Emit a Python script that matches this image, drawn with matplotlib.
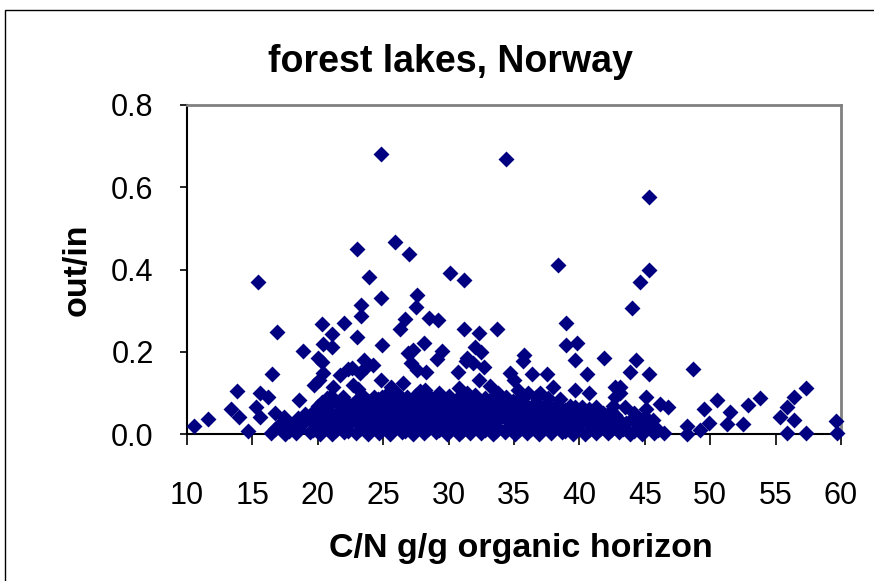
import matplotlib
matplotlib.use("Agg")
import matplotlib.pyplot as plt
from matplotlib.patches import Rectangle
from matplotlib.ticker import FormatStrFormatter

# C/N (g/g, organic horizon) vs out/in
# scattered lakes (upper part of the cloud and the outliers)
cn_upper = [
    24.8, 34.4, 45.3, 23.0, 25.9, 27.0, 15.4, 23.9, 30.1, 31.2,
    38.4, 45.3, 44.6, 24.8, 23.3, 23.3, 27.6, 27.5, 26.7, 26.3,
    22.0, 20.3, 16.9, 21.1, 23.0, 20.4, 24.9, 26.9, 18.9, 20.0,
    21.1, 23.5, 24.2, 22.3, 16.5, 20.4, 13.8, 15.6, 16.2, 13.4,
    18.6, 15.3, 16.7, 14.0, 10.5, 11.6, 14.7, 15.6, 17.4, 28.5,
    29.2, 31.2, 33.7, 32.3, 39.0, 44.0, 27.3, 28.1, 29.5, 29.1,
    31.3, 32.0, 32.7, 30.7, 28.3, 27.6, 35.8, 35.7, 39.0, 39.8,
    39.7, 41.9, 40.6, 44.3, 43.9, 37.5, 36.4, 34.7, 35.0, 33.2,
    33.8, 37.0, 39.7, 40.7, 42.7, 42.6, 38.5, 40.2, 35.3, 45.3,
    48.7, 45.1, 43.5, 46.2, 46.8, 45.1, 50.5, 49.5, 51.5, 52.9,
    53.8, 56.4, 57.3, 55.9, 55.3, 56.4, 55.9, 57.3, 59.6, 59.7,
    48.2, 48.2, 49.2, 49.9, 51.3, 52.5, 43.6, 44.6, 45.6, 45.6,
    43.1, 43.1, 32.5, 31.4, 20.3, 22.6, 20.1, 21.7, 22.7, 22.0,
    20.7, 21.2, 23.7, 24.8, 24.9, 28.2, 31.9, 32.3, 33.4, 35.0,
    26.5, 23.2, 29.3, 31.4, 27.1, 42.7, 39.7, 36.1, 23.1, 25.6,
    27.8, 30.8, 36.7, 38.0, 19.7, 26.1,
]
out_upper = [
    0.680, 0.669, 0.576, 0.450, 0.467, 0.438, 0.370, 0.381, 0.392, 0.374,
    0.410, 0.398, 0.370, 0.330, 0.314, 0.287, 0.338, 0.310, 0.279, 0.255,
    0.271, 0.267, 0.249, 0.242, 0.237, 0.220, 0.216, 0.196, 0.203, 0.186,
    0.212, 0.180, 0.168, 0.157, 0.145, 0.148, 0.105, 0.100, 0.089, 0.062,
    0.083, 0.066, 0.050, 0.042, 0.019, 0.036, 0.008, 0.042, 0.041, 0.283,
    0.277, 0.255, 0.255, 0.245, 0.271, 0.306, 0.204, 0.222, 0.203, 0.182,
    0.178, 0.212, 0.164, 0.151, 0.151, 0.156, 0.192, 0.178, 0.216, 0.221,
    0.180, 0.186, 0.145, 0.180, 0.151, 0.145, 0.145, 0.148, 0.131, 0.117,
    0.100, 0.100, 0.107, 0.099, 0.115, 0.068, 0.084, 0.066, 0.107, 0.145,
    0.157, 0.089, 0.066, 0.074, 0.065, 0.062, 0.083, 0.060, 0.054, 0.071,
    0.088, 0.089, 0.111, 0.066, 0.042, 0.034, 0.002, 0.002, 0.032, 0.002,
    0.020, 0.000, 0.010, 0.026, 0.024, 0.024, 0.026, 0.018, 0.018, 0.034,
    0.099, 0.115, 0.200, 0.184, 0.176, 0.160, 0.131, 0.143, 0.119, 0.083,
    0.087, 0.115, 0.164, 0.131, 0.091, 0.107, 0.172, 0.131, 0.091, 0.075,
    0.123, 0.148, 0.099, 0.099, 0.172, 0.091, 0.066, 0.099, 0.110, 0.115,
    0.104, 0.112, 0.090, 0.115, 0.120, 0.098,
]

# the dense band of low out/in values
cn_base = [
    16.4, 17.5, 18.3, 19.4, 20.2, 21.1, 22.0, 22.9, 23.8, 24.7,
    25.5, 26.4, 27.3, 28.1, 29.0, 29.9, 30.8, 31.6, 32.5, 33.4,
    34.3, 35.1, 36.0, 36.9, 37.8, 38.7, 39.5, 40.4, 41.3, 42.2,
    43.0, 43.9, 44.8, 45.7, 46.5,
    16.7, 17.8, 18.6, 19.6, 20.5, 21.4, 22.3, 23.2, 24.0, 24.9,
    25.8, 26.7, 27.5, 28.4, 29.3, 30.1, 31.0, 31.9, 32.8, 33.6,
    34.5, 35.4, 36.3, 37.2, 38.0, 38.9, 39.8, 40.7, 41.6, 42.4,
    43.3, 44.2, 45.1, 46.0,
    17.0, 17.9, 18.8, 19.8, 20.6, 21.5, 22.4, 23.4, 24.2, 25.1,
    26.0, 26.8, 27.7, 28.6, 29.5, 30.3, 31.2, 32.1, 33.0, 33.8,
    34.7, 35.6, 36.5, 37.3, 38.2, 39.1, 40.0, 40.9, 41.7, 42.6,
    17.6, 18.6, 19.5, 20.4, 21.3, 22.2, 23.1, 24.0, 24.8, 25.7,
    26.6, 27.5, 28.3, 29.2, 30.1, 31.0, 31.8, 32.7, 33.6, 34.5,
    35.3, 36.2, 37.1, 38.0, 38.8, 39.7, 40.6, 41.5, 42.3, 43.2,
    44.5, 45.3,
    18.5, 19.3, 20.1, 21.0, 21.9, 22.8, 23.6, 24.5, 25.4, 26.2,
    27.1, 28.0, 28.9, 29.8, 30.6, 31.5, 32.4, 33.3, 34.1, 35.0,
    35.9, 36.8, 37.6, 38.5, 39.4, 40.3, 41.1, 42.0, 42.9, 44.0,
    45.0,
    19.0, 19.9, 20.8, 21.7, 22.6, 23.5, 24.3, 25.2, 26.1, 27.0,
    27.8, 28.7, 29.6, 30.4, 31.3, 32.2, 33.1, 33.9, 34.8, 35.7,
    36.6, 37.4, 38.3, 39.2, 40.1, 40.9, 41.8, 42.7,
    19.8, 20.7, 21.6, 22.5, 23.3, 24.1, 25.0, 25.9, 26.7, 27.6,
    28.5, 29.3, 30.2, 31.1, 32.0, 32.8, 33.7, 34.6, 35.4, 36.3,
    37.2, 38.0, 38.9, 39.8, 40.7, 41.6, 42.4, 44.2,
    20.0, 20.9, 21.8, 22.7, 23.6, 24.4, 25.3, 26.2, 27.0, 27.9,
    28.8, 29.6, 30.5, 31.3, 32.2, 33.0, 33.9, 34.8, 35.6, 36.5,
    37.4, 38.3, 39.3, 41.3,
    20.3, 21.2, 22.1, 23.0, 23.8, 24.6, 25.5, 26.3, 27.2, 28.0,
    28.9, 29.7, 30.6, 31.5, 32.3, 33.2, 34.0, 34.9, 35.8, 36.7,
    37.5,
    21.0, 21.9, 23.4, 24.3, 25.1, 25.9, 26.8, 27.5, 28.6, 30.0,
    30.9, 32.0, 32.8, 34.4, 35.6, 37.6,
]
out_base = [
    0.003, 0.000, 0.002, 0.005, 0.001, 0.000, 0.004, 0.002, 0.000, 0.003,
    0.001, 0.005, 0.000, 0.002, 0.004, 0.001, 0.000, 0.003, 0.002, 0.000,
    0.004, 0.001, 0.003, 0.000, 0.002, 0.005, 0.001, 0.000, 0.003, 0.002,
    0.004, 0.000, 0.001, 0.003, 0.002,
    0.011, 0.008, 0.012, 0.009, 0.013, 0.010, 0.007, 0.012, 0.009, 0.011,
    0.013, 0.008, 0.010, 0.012, 0.009, 0.011, 0.007, 0.013, 0.010, 0.008,
    0.012, 0.009, 0.011, 0.013, 0.010, 0.008, 0.012, 0.009, 0.011, 0.010,
    0.013, 0.008, 0.011, 0.009,
    0.021, 0.016, 0.024, 0.018, 0.022, 0.015, 0.025, 0.019, 0.017, 0.023,
    0.020, 0.016, 0.024, 0.018, 0.021, 0.025, 0.017, 0.020, 0.023, 0.015,
    0.022, 0.019, 0.024, 0.016, 0.021, 0.018, 0.025, 0.020, 0.017, 0.022,
    0.031, 0.028, 0.033, 0.029, 0.032, 0.027, 0.030, 0.034, 0.028, 0.031,
    0.033, 0.029, 0.027, 0.032, 0.030, 0.034, 0.028, 0.031, 0.029, 0.033,
    0.027, 0.030, 0.032, 0.028, 0.034, 0.029, 0.031, 0.027, 0.033, 0.030,
    0.028, 0.031,
    0.038, 0.042, 0.035, 0.044, 0.040, 0.037, 0.045, 0.041, 0.036, 0.043,
    0.039, 0.046, 0.038, 0.042, 0.035, 0.044, 0.040, 0.037, 0.045, 0.041,
    0.036, 0.043, 0.039, 0.046, 0.038, 0.042, 0.035, 0.044, 0.040, 0.037,
    0.041,
    0.049, 0.052, 0.048, 0.053, 0.050, 0.047, 0.054, 0.051, 0.049, 0.052,
    0.048, 0.053, 0.050, 0.047, 0.054, 0.051, 0.049, 0.052, 0.048, 0.053,
    0.050, 0.047, 0.051, 0.049, 0.052, 0.048, 0.050, 0.047,
    0.058, 0.062, 0.056, 0.064, 0.060, 0.057, 0.065, 0.061, 0.055, 0.063,
    0.059, 0.066, 0.058, 0.062, 0.056, 0.064, 0.060, 0.057, 0.063, 0.059,
    0.055, 0.061, 0.058, 0.056, 0.060, 0.054, 0.057, 0.050,
    0.069, 0.072, 0.068, 0.073, 0.070, 0.067, 0.074, 0.071, 0.069, 0.072,
    0.068, 0.073, 0.070, 0.067, 0.074, 0.071, 0.069, 0.072, 0.068, 0.070,
    0.067, 0.071, 0.068, 0.066,
    0.079, 0.085, 0.077, 0.083, 0.080, 0.086, 0.078, 0.084, 0.081, 0.076,
    0.085, 0.079, 0.083, 0.077, 0.082, 0.078, 0.084, 0.080, 0.076, 0.078,
    0.075,
    0.092, 0.089, 0.094, 0.090, 0.093, 0.088, 0.091, 0.095, 0.089, 0.092,
    0.090, 0.094, 0.088, 0.091, 0.093, 0.087,
]

x_ticks = [10, 15, 20, 25, 30, 35, 40, 45, 50, 55, 60]
y_ticks = [0.0, 0.2, 0.4, 0.6, 0.8]

W, H = 874, 581
plt.rcParams.update({"font.family": ["Liberation Sans", "DejaVu Sans"]})

fig = plt.figure(figsize=(W / 100, H / 100), dpi=100)
fig.patch.set_facecolor("white")
# thin frame around the whole chart area
fig.patches.append(Rectangle((5 / W, -0.1), 2, 1.1 - 10 / H, transform=fig.transFigure,
                             fill=False, edgecolor="black", linewidth=1.0))

ax = fig.add_axes([187 / W, 1 - 434 / H, (841 - 187) / W, (434 - 105) / H])
ax.scatter(cn_upper + cn_base, out_upper + out_base, marker="D", s=66,
           c="#000080", linewidths=0, clip_on=False, zorder=3)

ax.set_xlim(10, 60)
ax.set_ylim(0, 0.8)
ax.set_xticks(x_ticks)
ax.set_yticks(y_ticks)
ax.yaxis.set_major_formatter(FormatStrFormatter("%.1f"))
ax.tick_params(axis="x", direction="out", length=8, width=1.2, pad=26, labelsize=22)
ax.tick_params(axis="y", direction="out", length=5, width=1.2, pad=19, labelsize=22)

for side in ("left", "bottom"):
    ax.spines[side].set_color("black")
    ax.spines[side].set_linewidth(1.5)
for side in ("top", "right"):
    ax.spines[side].set_color("#808080")
    ax.spines[side].set_linewidth(2)

fig.text(450 / W, 1 - 62 / H, "forest lakes, Norway", ha="center", va="center",
         fontsize=27, fontweight="bold")
fig.text(521 / W, 1 - 549 / H, "C/N g/g organic horizon", ha="center", va="center",
         fontsize=24.5, fontweight="bold")
fig.text(77 / W, 1 - 270 / H, "out/in", ha="center", va="center", rotation=90,
         fontsize=24.5, fontweight="bold")

fig.savefig("out.png", dpi=100)
